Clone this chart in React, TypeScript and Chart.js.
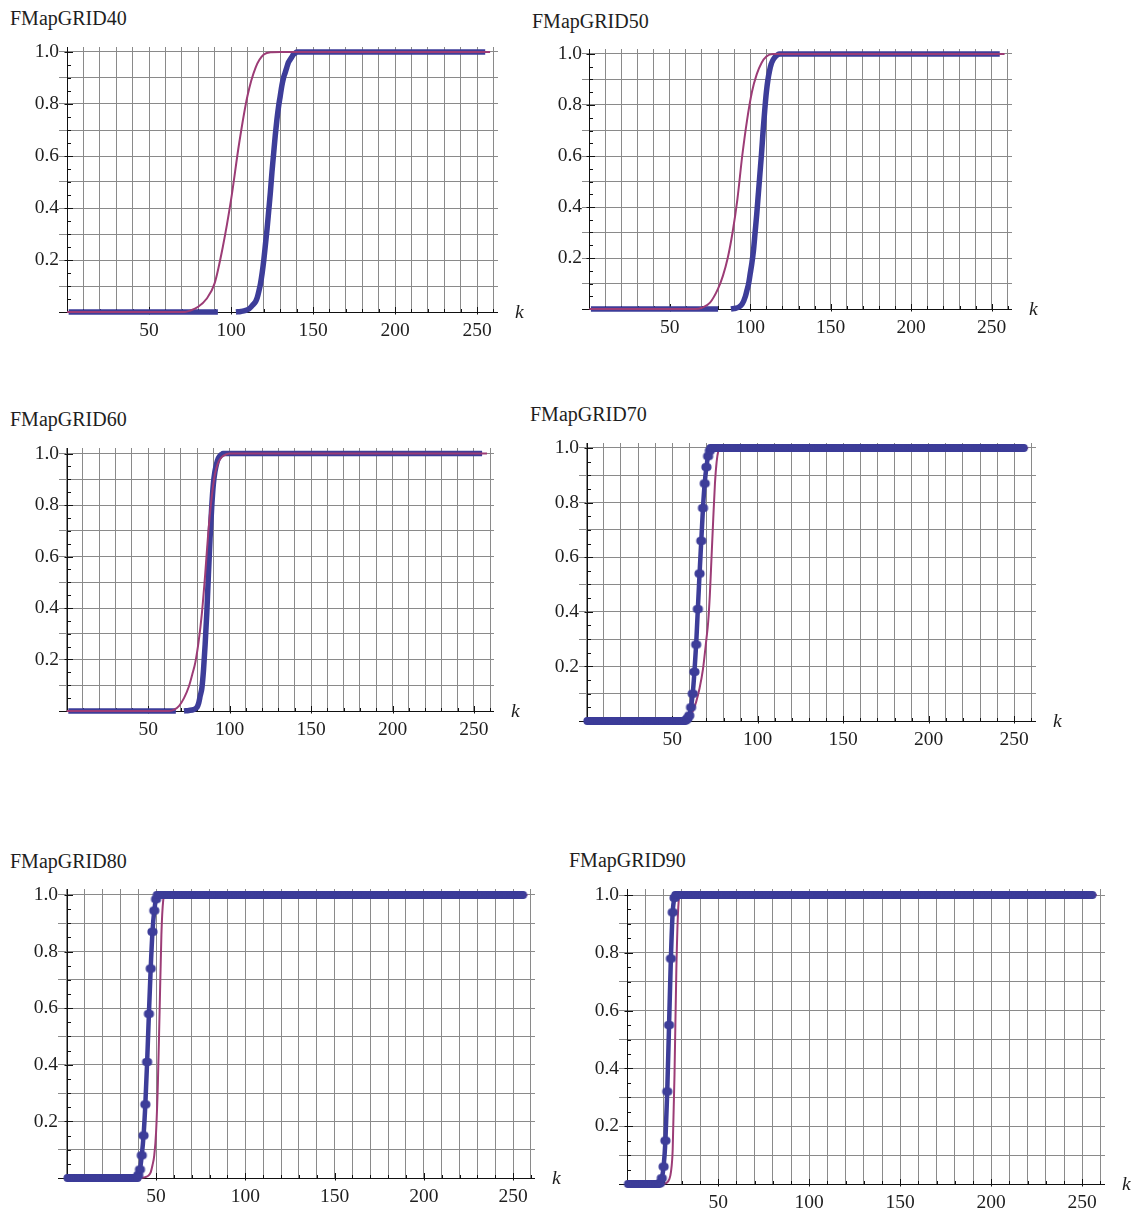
import { useEffect, useRef } from "react";
import { Chart, registerables } from "chart.js";

Chart.register(...registerables);

// ---- axis ticks and grid ----
const kGrid = [0, 10, 20, 30, 40, 50, 60, 70, 80, 90, 100, 110, 120, 130, 140, 150, 160, 170, 180, 190, 200, 210, 220, 230, 240, 250, 260];
const kLabels = [50, 100, 150, 200, 250];
const kMinor = [10, 20, 30, 40, 60, 70, 80, 90, 110, 120, 130, 140, 160, 170, 180, 190, 210, 220, 230, 240, 260];
const pGrid = [0, 0.1, 0.2, 0.3, 0.4, 0.5, 0.6, 0.7, 0.8, 0.9, 1.0];
const pLabels = [0.2, 0.4, 0.6, 0.8, 1.0];
const pMinor = [0.05, 0.1, 0.15, 0.25, 0.3, 0.35, 0.45, 0.5, 0.55, 0.65, 0.7, 0.75, 0.85, 0.9, 0.95];

// ---- FMapGRID40 ----
const g40BlueLow = [1, 92];
const g40BlueK = [103, 106, 109, 111, 113, 115, 116, 117, 118, 119, 120, 121, 122, 123, 124, 125, 126, 127, 128, 129, 130, 131, 132, 133, 134, 135, 136, 137, 138, 139, 140];
const g40BlueP = [0, 0.002, 0.006, 0.012, 0.025, 0.04, 0.055, 0.08, 0.11, 0.15, 0.2, 0.26, 0.32, 0.39, 0.46, 0.54, 0.61, 0.68, 0.74, 0.79, 0.83, 0.87, 0.9, 0.92, 0.94, 0.96, 0.97, 0.98, 0.99, 0.995, 1];
const g40BlueHigh = [141, 255];
const g40FitK = [0, 72, 75, 80, 85, 90, 95, 100, 105, 110, 115, 120, 125, 130, 258];
const g40FitP = [0, 0, 0.005, 0.02, 0.05, 0.11, 0.25, 0.43, 0.65, 0.83, 0.94, 0.99, 0.999, 1, 1];

// ---- FMapGRID50 ----
const g50BlueLow = [1, 80];
const g50BlueK = [88, 91, 93, 95, 97, 98, 99, 100, 101, 102, 103, 104, 105, 106, 107, 108, 109, 110, 111, 112, 113, 114, 115, 116, 117, 118];
const g50BlueP = [0, 0.003, 0.008, 0.02, 0.05, 0.075, 0.1, 0.14, 0.18, 0.23, 0.3, 0.37, 0.45, 0.53, 0.61, 0.7, 0.78, 0.85, 0.9, 0.935, 0.96, 0.975, 0.985, 0.992, 0.997, 1];
const g50BlueHigh = [119, 255];
const g50FitK = [0, 66, 70, 75, 80, 83, 86, 89, 92, 95, 98, 101, 104, 107, 110, 114, 258];
const g50FitP = [0, 0, 0.005, 0.025, 0.08, 0.13, 0.2, 0.3, 0.43, 0.6, 0.74, 0.85, 0.92, 0.965, 0.99, 1, 1];

// ---- FMapGRID60 ----
const g60BlueLow = [1, 67];
const g60BlueK = [72, 75, 78, 80, 81, 82, 83, 84, 85, 86, 87, 88, 89, 90, 91, 92, 93, 94, 95, 96];
const g60BlueP = [0, 0.002, 0.006, 0.015, 0.03, 0.06, 0.09, 0.16, 0.26, 0.38, 0.53, 0.67, 0.79, 0.88, 0.93, 0.96, 0.98, 0.99, 0.996, 1];
const g60BlueHigh = [97, 255];
const g60FitK = [0, 63, 66, 69, 72, 75, 77, 79, 81, 83, 85, 87, 89, 91, 93, 95, 98, 100, 258];
const g60FitP = [0, 0, 0.005, 0.02, 0.05, 0.095, 0.14, 0.19, 0.27, 0.38, 0.53, 0.7, 0.83, 0.92, 0.965, 0.985, 0.997, 1, 1];

// ---- FMapGRID70 ----
const g70BlueLow = [1, 57];
const g70BlueK = [58, 59, 60, 61, 62, 63, 64, 65, 66, 67, 68, 69, 70, 71, 72, 73];
const g70BlueP = [0.003, 0.01, 0.02, 0.05, 0.1, 0.18, 0.28, 0.41, 0.54, 0.66, 0.78, 0.87, 0.93, 0.97, 0.99, 1];
const g70BlueHigh = [74, 255];
const g70FitK = [0, 55, 58, 60, 62, 64, 66, 68, 70, 71, 72, 73, 74, 75, 76, 77, 78, 258];
const g70FitP = [0, 0, 0.005, 0.015, 0.035, 0.07, 0.12, 0.19, 0.3, 0.36, 0.46, 0.6, 0.74, 0.87, 0.95, 0.99, 1, 1];

// ---- FMapGRID80 ----
const g80BlueLow = [1, 39];
const g80BlueK = [40, 41, 42, 43, 44, 45, 46, 47, 48, 49, 50, 51];
const g80BlueP = [0.01, 0.03, 0.08, 0.15, 0.26, 0.41, 0.58, 0.74, 0.87, 0.945, 0.985, 1];
const g80BlueHigh = [52, 255];
const g80FitK = [0, 40, 44, 46, 47, 48, 49, 50, 51, 52, 53, 54, 55, 258];
const g80FitP = [0, 0, 0.003, 0.01, 0.02, 0.045, 0.08, 0.16, 0.33, 0.59, 0.86, 0.98, 1, 1];

// ---- FMapGRID90 ----
const g90BlueLow = [1, 17];
const g90BlueK = [18, 19, 20, 21, 22, 23, 24, 25, 26, 27];
const g90BlueP = [0.003, 0.02, 0.06, 0.15, 0.32, 0.55, 0.78, 0.94, 0.99, 1];
const g90BlueHigh = [28, 255];
const g90FitK = [0, 19, 21, 22, 23, 24, 25, 26, 27, 28, 29, 258];
const g90FitP = [0, 0, 0.002, 0.006, 0.015, 0.04, 0.12, 0.38, 0.74, 0.95, 1, 1];

// ---- styling ----
const BLUE = "rgb(61,61,153)";
const MAGENTA = "rgb(156,60,118)";
const GRID = "rgb(138,138,138)";
const INK = "#1e1e1e";
const SERIF = "'Liberation Serif', 'Times New Roman', Times, serif";
const TICK_PX = 19.5;
const TITLE_PX = 20;

const PAD_L = 48;
const PAD_T = 14;
const PAD_R = 40;
const PAD_B = 30;
const K_FROM = -4.7;
const K_TO = 262.5;
const P_TO = 1.02;

interface PanelSpec {
  title: string;
  titleX: number;
  titleY: number;
  ox: number;
  kx: number;
  oy: number;
  ky: number;
  low: number[];
  blueK: number[];
  blueP: number[];
  high: number[];
  fitK: number[];
  fitP: number[];
  gap: boolean;
  markers: boolean;
}

const panels: PanelSpec[] = [
  { title: "FMapGRID40", titleX: 10, titleY: 18, ox: 67, kx: 1.64, oy: 312, ky: 260, low: g40BlueLow, blueK: g40BlueK, blueP: g40BlueP, high: g40BlueHigh, fitK: g40FitK, fitP: g40FitP, gap: true, markers: false },
  { title: "FMapGRID50", titleX: 532, titleY: 21, ox: 589.3, kx: 1.6096, oy: 309, ky: 255, low: g50BlueLow, blueK: g50BlueK, blueP: g50BlueP, high: g50BlueHigh, fitK: g50FitK, fitP: g50FitP, gap: true, markers: false },
  { title: "FMapGRID60", titleX: 10, titleY: 419, ox: 66.7, kx: 1.629, oy: 711, ky: 257.5, low: g60BlueLow, blueK: g60BlueK, blueP: g60BlueP, high: g60BlueHigh, fitK: g60FitK, fitP: g60FitP, gap: true, markers: false },
  { title: "FMapGRID70", titleX: 530, titleY: 414, ox: 586.7, kx: 1.71, oy: 721, ky: 273, low: g70BlueLow, blueK: g70BlueK, blueP: g70BlueP, high: g70BlueHigh, fitK: g70FitK, fitP: g70FitP, gap: false, markers: true },
  { title: "FMapGRID80", titleX: 10, titleY: 861, ox: 66.8, kx: 1.785, oy: 1178, ky: 283, low: g80BlueLow, blueK: g80BlueK, blueP: g80BlueP, high: g80BlueHigh, fitK: g80FitK, fitP: g80FitP, gap: false, markers: true },
  { title: "FMapGRID90", titleX: 569, titleY: 860, ox: 627.2, kx: 1.82, oy: 1184, ky: 289, low: g90BlueLow, blueK: g90BlueK, blueP: g90BlueP, high: g90BlueHigh, fitK: g90FitK, fitP: g90FitP, gap: false, markers: true },
];

type Pt = { x: number; y: number | null };

function runPoints(run: number[], p: number): Pt[] {
  const pts: Pt[] = [];
  for (let k = run[0]; k <= run[1]; k++) pts.push({ x: k, y: p });
  return pts;
}

function bluePoints(s: PanelSpec): Pt[] {
  const pts = runPoints(s.low, 0);
  if (s.gap) pts.push({ x: (s.low[1] + s.blueK[0]) / 2, y: null });
  s.blueK.forEach((k, i) => pts.push({ x: k, y: s.blueP[i] }));
  return pts.concat(runPoints(s.high, 1));
}

function fitPoints(s: PanelSpec): Pt[] {
  return s.fitK.map((k, i) => ({ x: k, y: s.fitP[i] }));
}

function frameOf(s: PanelSpec) {
  const L = Math.round(s.ox + K_FROM * s.kx);
  const R = Math.round(s.ox + K_TO * s.kx);
  const T = Math.round(s.oy - P_TO * s.ky);
  const B = Math.round(s.oy);
  return {
    left: L - PAD_L,
    top: T - PAD_T,
    width: R - L + PAD_L + PAD_R,
    height: B - T + PAD_T + PAD_B,
    xmin: (L - s.ox) / s.kx,
    xmax: (R - s.ox) / s.kx,
    ymin: (s.oy - B) / s.ky,
    ymax: (s.oy - T) / s.ky,
  };
}

// Twin-dot plot marker (two overlapping discs side by side).
function twinDot(): HTMLCanvasElement {
  const r = 3.9;
  const shift = 2.4;
  const c = document.createElement("canvas");
  c.width = Math.ceil(2 * r + shift + 2);
  c.height = Math.ceil(2 * r + 2);
  const g = c.getContext("2d")!;
  g.fillStyle = BLUE;
  const cy = c.height / 2;
  const cx = c.width / 2;
  [cx - shift / 2, cx + shift / 2].forEach((x) => {
    g.beginPath();
    g.arc(x, cy, r, 0, Math.PI * 2);
    g.fill();
  });
  return c;
}

// Mathematica-style axes through the origin, inward tick marks and the "k" label.
const axesThroughOrigin = {
  id: "axesThroughOrigin",
  beforeDatasetsDraw(chart: any) {
    const { ctx, chartArea, scales } = chart;
    const xs = scales.x;
    const ys = scales.y;
    const x0 = Math.round(xs.getPixelForValue(0)) + 0.5;
    const y0 = Math.round(ys.getPixelForValue(0)) + 0.5;
    ctx.save();
    ctx.strokeStyle = "#111";
    ctx.lineWidth = 1;
    const seg = (a: number, b: number, c: number, d: number) => {
      ctx.beginPath();
      ctx.moveTo(a, b);
      ctx.lineTo(c, d);
      ctx.stroke();
    };
    seg(chartArea.left, y0, chartArea.right, y0);
    seg(x0, y0, x0, chartArea.top);
    kLabels.forEach((k) => {
      const px = Math.round(xs.getPixelForValue(k)) + 0.5;
      seg(px, y0 + 2, px, y0 - 5.5);
    });
    kMinor.forEach((k) => {
      const px = Math.round(xs.getPixelForValue(k)) + 0.5;
      seg(px, y0, px, y0 - 3.5);
    });
    pLabels.forEach((p) => {
      const py = Math.round(ys.getPixelForValue(p)) + 0.5;
      seg(x0 - 3, py, x0 + 5.5, py);
    });
    pMinor.forEach((p) => {
      const py = Math.round(ys.getPixelForValue(p)) + 0.5;
      seg(x0, py, x0 + 3.5, py);
    });
    ctx.restore();
  },
  afterDraw(chart: any) {
    const { ctx, chartArea, scales } = chart;
    const y0 = scales.y.getPixelForValue(0);
    ctx.save();
    ctx.font = `italic ${TICK_PX}px ${SERIF}`;
    ctx.fillStyle = INK;
    ctx.textAlign = "left";
    ctx.textBaseline = "middle";
    ctx.fillText("k", chartArea.right + 17, y0 + 1);
    ctx.restore();
  },
};

function Panel({ spec }: { spec: PanelSpec }) {
  const ref = useRef<HTMLCanvasElement>(null);
  const f = frameOf(spec);

  useEffect(() => {
    if (!ref.current) return;
    const tickFont = { family: SERIF, size: TICK_PX };
    const chart = new Chart(ref.current, {
      type: "line",
      data: {
        datasets: [
          {
            data: fitPoints(spec) as any,
            borderColor: MAGENTA,
            borderWidth: 2,
            pointRadius: 0,
            cubicInterpolationMode: "monotone",
            clip: false as any,
            order: spec.markers ? 1 : 0,
          },
          {
            data: bluePoints(spec) as any,
            borderColor: BLUE,
            borderWidth: spec.markers ? 4.5 : 5.5,
            pointRadius: spec.markers ? 4 : 0,
            pointStyle: spec.markers ? (twinDot() as any) : "circle",
            pointBackgroundColor: BLUE,
            pointBorderWidth: 0,
            cubicInterpolationMode: "monotone",
            spanGaps: false,
            clip: false as any,
            order: spec.markers ? 0 : 1,
          },
        ],
      },
      options: {
        animation: false,
        responsive: false,
        devicePixelRatio: 1,
        events: [],
        layout: { padding: { left: 0, top: PAD_T, right: PAD_R, bottom: 0 } },
        plugins: { legend: { display: false }, tooltip: { enabled: false }, title: { display: false } },
        scales: {
          x: {
            type: "linear",
            min: f.xmin,
            max: f.xmax,
            afterBuildTicks: (sc: any) => {
              sc.ticks = kGrid.map((v) => ({ value: v }));
            },
            afterFit: (sc: any) => {
              sc.height = PAD_B;
            },
            border: { display: false },
            grid: { color: GRID, lineWidth: 1, drawTicks: false },
            ticks: {
              autoSkip: false,
              maxRotation: 0,
              minRotation: 0,
              padding: 7,
              color: INK,
              font: tickFont,
              callback: (v: any) => (kLabels.includes(v) ? String(v) : ""),
            },
          },
          y: {
            type: "linear",
            min: f.ymin,
            max: f.ymax,
            afterBuildTicks: (sc: any) => {
              sc.ticks = pGrid.map((v) => ({ value: v }));
            },
            afterFit: (sc: any) => {
              sc.width = PAD_L;
            },
            border: { display: false },
            grid: { color: GRID, lineWidth: 1, drawTicks: false },
            ticks: {
              autoSkip: false,
              padding: 0,
              color: INK,
              font: tickFont,
              callback: (v: any) => (pLabels.includes(v) ? Number(v).toFixed(1) : ""),
            },
          },
        },
      } as any,
      plugins: [axesThroughOrigin],
    });
    return () => chart.destroy();
  }, []);

  return (
    <>
      <div
        style={{
          position: "absolute",
          left: spec.titleX,
          top: spec.titleY - 11,
          font: `${TITLE_PX}px ${SERIF}`,
          lineHeight: "22px",
          color: INK,
          whiteSpace: "nowrap",
        }}
      >
        {spec.title}
      </div>
      <canvas
        ref={ref}
        width={f.width}
        height={f.height}
        style={{ position: "absolute", left: f.left, top: f.top, width: f.width, height: f.height }}
      />
    </>
  );
}

export default function App() {
  return (
    <div
      style={{
        position: "absolute",
        left: 0,
        top: 0,
        width: 1135,
        height: 1209,
        overflow: "hidden",
        background: "#ffffff",
      }}
    >
      {panels.map((p) => (
        <Panel key={p.title} spec={p} />
      ))}
    </div>
  );
}
